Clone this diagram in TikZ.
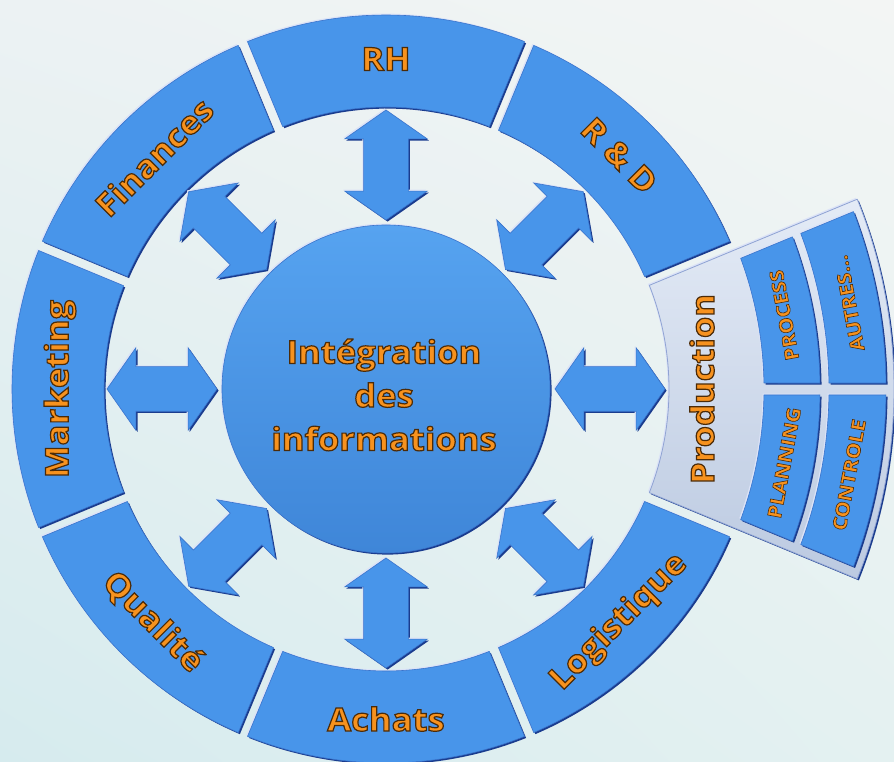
\documentclass[tikz,border=0pt]{standalone}
\usepackage{fontspec}
\setmainfont{Open Sans}
\newfontfamily\lblfont[FakeStretch=1.08]{Open Sans}
\newfontfamily\sublblfont[FakeStretch=1.1]{Open Sans}
\usetikzlibrary{shapes.arrows,shadings}
\definecolor{segblue}{HTML}{4895EA}
\definecolor{segline}{HTML}{3A74CC}
\definecolor{darkedge}{HTML}{1A3C8E}
\definecolor{hilite}{HTML}{DCE3F7}
\definecolor{coretop}{HTML}{56A3F0}
\definecolor{corebot}{HTML}{3F86D8}
\definecolor{orangeT}{HTML}{F7921E}
\definecolor{bgUL}{HTML}{ECF2F3}
\definecolor{bgUR}{HTML}{F3F5F4}
\definecolor{bgLL}{HTML}{D6EBEE}
\definecolor{bgLR}{HTML}{E4F1F1}
\definecolor{paneltop}{HTML}{E4EBF6}
\definecolor{panelbot}{HTML}{BCCAE1}
\definecolor{paneledge}{HTML}{8FA3D3}
\newcommand\outlined[2][1.2]{\special{pdf:literal direct 2 Tr #1 w 0.30 0.17 0.03 RG}#2\special{pdf:literal direct 0 Tr}}
\newcommand\ringseg[7]{%
  \path[#1] ({#2+asin(#6/#4)}:#4pt) -- ({#2+asin(#6/#5)}:#5pt)
    arc[start angle={#2+asin(#6/#5)}, end angle={#3-asin(#7/#5)}, radius=#5pt]
    -- ({#3-asin(#7/#4)}:#4pt)
    arc[start angle={#3-asin(#7/#4)}, end angle={#2+asin(#6/#4)}, radius=#4pt] -- cycle;}
\tikzset{
  emboss/.style={preaction={fill=darkedge, transform canvas={shift={(1.6pt,-1.6pt)}}},
                 preaction={fill=hilite, transform canvas={shift={(-1.4pt,1.4pt)}}}},
  segment/.style={emboss, fill=segblue, draw=segline, line width=0.6pt, line join=round},
  panel/.style={emboss, top color=paneltop, bottom color=panelbot, draw=paneledge, line width=0.8pt, line join=round},
  lbl/.style={font=\lblfont\bfseries\fontsize{32}{43.5}\selectfont, text=orangeT, inner sep=0pt},
  sublbl/.style={font=\sublblfont\bfseries\fontsize{19}{23}\selectfont, text=orangeT, inner sep=0pt},
  dblarrow/.style={emboss, double arrow, double arrow head extend=19pt, double arrow tip angle=110,
     minimum height=110pt, inner sep=22pt, fill=segblue, draw=segline, line width=0.6pt},
  core/.style={emboss, circle, minimum size=328pt, inner sep=0pt, top color=coretop, bottom color=corebot, draw=segline, line width=0.6pt}
}
\begin{document}
\begin{tikzpicture}[x=1pt, y=1pt]
\useasboundingbox (-386,-373) rectangle (508,389);
\shade[upper left=bgUL, upper right=bgUR, lower left=bgLL, lower right=bgLR] (-386,-373) rectangle (508,389);
% ring segments
\foreach \c in {90,45,-45,-90,-135,180,135} {
  \ringseg{segment}{\c-22.5}{\c+22.5}{282}{374}{5}{5}
}
% production panel
\ringseg{panel}{-22.5}{22.5}{283}{508}{5}{5}
\ringseg{segment}{0}{22.5}{378}{434}{6}{15}
\ringseg{segment}{0}{22.5}{443}{500}{6}{15}
\ringseg{segment}{-22.5}{0}{378}{434}{15}{6}
\ringseg{segment}{-22.5}{0}{443}{500}{15}{6}
% core
\node[core] (core) at (0,0) {};
\node[lbl, align=center] (coretext) at (-2,-6) {\outlined{Intégration\\des\\informations}};
% arrows
\foreach \a/\n in {90/aRH, 45/aRD, 0/aProd, -45/aLog, -90/aAch, -135/aQual, 180/aMkt, 135/aFin}
  \node[dblarrow, rotate=\a] (\n) at (\a:224pt) {};
% labels
\node[lbl] (tRH) at (90:330pt) {\outlined{RH}};
\node[lbl, rotate=-45] (tRD) at (45:330pt) {\outlined{R \& D}};
\node[lbl, rotate=45] (tLog) at (-45:330pt) {\outlined{Logistique}};
\node[lbl] (tAch) at (-90:330pt) {\outlined{Achats}};
\node[lbl, rotate=-45] (tQual) at (-135:330pt) {\outlined{Qualité}};
\node[lbl, rotate=90] (tMkt) at (180:326pt) {\outlined{Marketing}};
\node[lbl, rotate=45] (tFin) at (135:328pt) {\outlined{Finances}};
\node[lbl, rotate=90] (tProd) at (0:316pt) {\outlined{Production}};
\node[sublbl, rotate=100.5] (tProc) at (10.5:405pt) {\outlined[0.6]{PROCESS}};
\node[sublbl, rotate=100.5] (tAut) at (10.5:471pt) {\outlined[0.6]{AUTRES...}};
\node[sublbl, rotate=79.5] (tPlan) at (-10.5:405pt) {\outlined[0.6]{PLANNING}};
\node[sublbl, rotate=79.5] (tCtrl) at (-10.5:471pt) {\outlined[0.6]{CONTROLE}};
\end{tikzpicture}
\end{document}
